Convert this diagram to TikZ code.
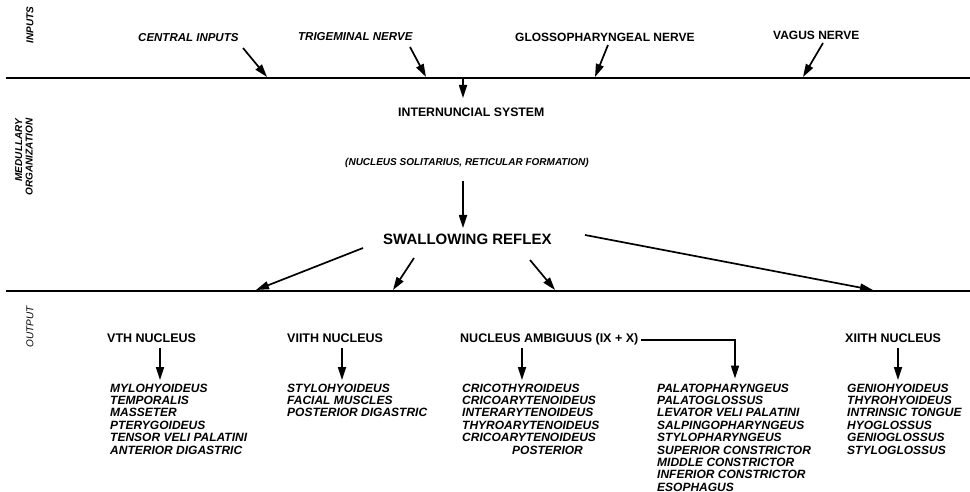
\documentclass[tikz,border=0pt]{standalone}
\usepackage{fontspec}
\setmainfont{Liberation Sans}
\usetikzlibrary{arrows.meta,calc}
\begin{document}
\begin{tikzpicture}[x=1pt,y=-1pt,
  conn/.style={line width=1.7pt,-{Triangle[length=13pt,width=8pt]}},
  rulebar/.style={line width=1.9pt},
  itlab/.style={font=\fontsize{11.5}{13}\selectfont\bfseries\itshape,inner sep=0pt,anchor=base west},
  uplab/.style={font=\fontsize{12}{14}\selectfont\bfseries,inner sep=0pt,anchor=base west},
  side/.style={font=\fontsize{10}{10.5}\selectfont\bfseries\itshape,rotate=90,inner sep=0pt},
  head/.style={font=\fontsize{12.5}{14}\selectfont\bfseries,inner sep=0pt,anchor=base west},
  muscles/.style={font=\fontsize{12}{12.4}\selectfont\bfseries\itshape,align=left,anchor=north west,inner sep=0pt},
]
\useasboundingbox (0,0) rectangle (970,492);

% horizontal rules
\coordinate (r1a) at (6,78);
\coordinate (r1b) at (970,78);
\coordinate (r2a) at (6,291);
\coordinate (r2b) at (970,291);
\draw[rulebar] (r1a) -- (r1b);
\draw[rulebar] (r2a) -- (r2b);

% side labels
\node[side] (sInputs) at (30,25) {INPUTS};
\node[side,align=right] (sMed) at (24,157) {MEDULLARY\\ORGANIZATION};
\node[side,font=\fontsize{10}{10.5}\selectfont\itshape] (sOut) at (30,327) {OUTPUT};

% inputs
\node[itlab] (ci) at (138,41.2) {CENTRAL INPUTS};
\node[itlab] (tn) at (298,41) {TRIGEMINAL NERVE};
\node[uplab] (gn) at (515,41.5) {GLOSSOPHARYNGEAL NERVE};
\node[uplab] (vn) at (773,40) {VAGUS NERVE};

\coordinate (ciE) at (267,77);
\coordinate (tnE) at (426,77);
\coordinate (gnE) at (595,77);
\coordinate (vnE) at (803,77);
\draw[conn] ($(ci.base west)+(105,6.8)$) -- (ciE);
\draw[conn] ($(tn.base west)+(112,6)$) -- (tnE);
\draw[conn] ($(gn.base west)+(93,3.5)$) -- (gnE);
\draw[conn] ($(vn.base west)+(50,3)$) -- (vnE);

% medullary organization
\node[uplab,font=\fontsize{12.3}{14}\selectfont\bfseries] (ins) at (398,116.5) {INTERNUNCIAL SYSTEM};
\node[itlab,font=\fontsize{10}{12}\selectfont\bfseries\itshape] (nsr) at (345,165.6) {(NUCLEUS SOLITARIUS, RETICULAR FORMATION)};
\node[uplab,font=\fontsize{15}{17}\selectfont\bfseries] (sr) at (383,244.4) {SWALLOWING REFLEX};

\coordinate (inS) at (463,78);
\draw[conn] (inS) -- ($(ins.base west)+(65,-18.5)$);
\draw[conn] ($(nsr.base west)+(118,15.4)$) -- ($(sr.base west)+(80,-16.4)$);

\coordinate (o1) at (256,290);
\coordinate (o2) at (393,290);
\coordinate (o3) at (555,290);
\coordinate (o4) at (873,290);
\draw[conn] ($(sr.base west)+(-20,3.6)$) -- (o1);
\draw[conn] ($(sr.base west)+(31,13.6)$) -- (o2);
\draw[conn] ($(sr.base west)+(147,15.6)$) -- (o3);
\draw[conn] ($(sr.base west)+(202,-9.4)$) -- (o4);

% output
\node[head] (v5) at (107,342.5) {VTH NUCLEUS};
\node[head] (v7) at (287,342.5) {VIITH NUCLEUS};
\node[head] (na) at (460,342.5) {NUCLEUS AMBIGUUS (IX + X)};
\node[head] (x12) at (845,342.5) {XIITH NUCLEUS};

\node[muscles] (m5) at (110,383.5) {MYLOHYOIDEUS\\TEMPORALIS\\MASSETER\\PTERYGOIDEUS\\TENSOR VELI PALATINI\\ANTERIOR DIGASTRIC};
\node[muscles] (m7) at (287,383.5) {STYLOHYOIDEUS\\FACIAL MUSCLES\\POSTERIOR DIGASTRIC};
\node[muscles] (ma) at (462,383.5) {CRICOTHYROIDEUS\\CRICOARYTENOIDEUS\\INTERARYTENOIDEUS\\THYROARYTENOIDEUS\\CRICOARYTENOIDEUS\\\hspace*{50pt}POSTERIOR};
\node[muscles] (mp) at (657,383.5) {PALATOPHARYNGEUS\\PALATOGLOSSUS\\LEVATOR VELI PALATINI\\SALPINGOPHARYNGEUS\\STYLOPHARYNGEUS\\SUPERIOR CONSTRICTOR\\MIDDLE CONSTRICTOR\\INFERIOR CONSTRICTOR\\ESOPHAGUS};
\node[muscles] (m12) at (847,383.5) {GENIOHYOIDEUS\\THYROHYOIDEUS\\INTRINSIC TONGUE\\HYOGLOSSUS\\GENIOGLOSSUS\\STYLOGLOSSUS};

\draw[conn] ($(v5.base west)+(53,5)$) -- ($(m5.north west)+(50,-3.5)$);
\draw[conn] ($(v7.base west)+(55,5)$) -- ($(m7.north west)+(55,-3.5)$);
\draw[conn] ($(na.base west)+(62,5)$) -- ($(ma.north west)+(60,-3.5)$);
\draw[conn] ($(na.base east)+(2,-2.5)$) -| ($(mp.north west)+(78,-5)$);
\draw[conn] ($(x12.base west)+(53,5)$) -- ($(m12.north west)+(51,-3.5)$);
\end{tikzpicture}
\end{document}
